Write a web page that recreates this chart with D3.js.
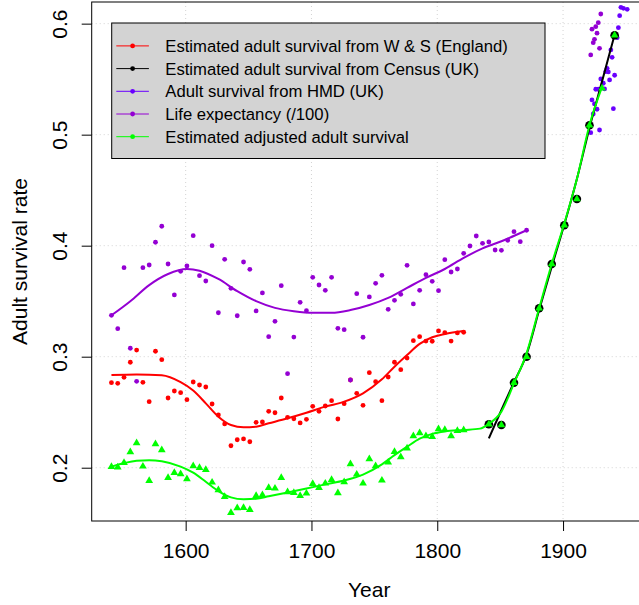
<!DOCTYPE html>
<html>
<head>
<meta charset="utf-8">
<script src="https://cdn.jsdelivr.net/npm/d3@7"></script>
<style>
    body { margin: 0; background: #fff; }
    svg { display: block; font-family: "Liberation Sans", Arial, sans-serif; }
</style>
</head>
<body>
<script>
// Wrigley & Schofield quinquennial estimates
const wsYears = [1541, 1546, 1551, 1556, 1561, 1566, 1571, 1576, 1581, 1586, 1591, 1596, 1601, 1606, 1611,
    1616, 1621, 1626, 1631, 1636, 1641, 1646, 1651, 1656, 1661, 1666, 1671, 1676, 1681, 1686, 1691, 1696,
    1701, 1706, 1711, 1716, 1721, 1726, 1731, 1736, 1741, 1746, 1751, 1756, 1761, 1766, 1771, 1776, 1781,
    1786, 1791, 1796, 1801, 1806, 1811, 1816, 1821];
const wsSurvival = [0.2766, 0.2760, 0.2814, 0.2950, 0.3060, 0.2769, 0.2595, 0.3049, 0.2973, 0.2628, 0.2691,
    0.2676, 0.2613, 0.2772, 0.2745, 0.2727, 0.2574, 0.2475, 0.2394, 0.2198, 0.2252, 0.2259, 0.2234, 0.2409,
    0.2412, 0.2508, 0.2495, 0.2628, 0.2454, 0.2441, 0.2403, 0.2436, 0.2553, 0.2508, 0.2556, 0.2604, 0.2439,
    0.2577, 0.2790, 0.2670, 0.2562, 0.2856, 0.2775, 0.2604, 0.2817, 0.2950, 0.2883, 0.2988, 0.3144, 0.3180,
    0.3141, 0.3139, 0.3232, 0.3216, 0.3141, 0.3214, 0.3220];
const wsFitYears = [1541, 1561, 1581, 1596, 1606, 1616, 1626, 1636, 1646, 1656, 1666, 1681, 1696, 1711,
    1726, 1741, 1756, 1766, 1776, 1786, 1796, 1806, 1821];
const wsFit = [0.2835, 0.2840, 0.2832, 0.2770, 0.2695, 0.2580, 0.2460, 0.2385, 0.2364, 0.2370, 0.2400,
    0.2445, 0.2495, 0.2550, 0.2595, 0.2670, 0.2796, 0.2910, 0.3015, 0.3115, 0.3175, 0.3205, 0.3232];

// census
const censusYears = [1841, 1851, 1861, 1871, 1881, 1891, 1901, 1911, 1921, 1941];
const censusSurvival = [0.2391, 0.2385, 0.2766, 0.3000, 0.3436, 0.3835, 0.4184, 0.4420, 0.5085, 0.5895];
const censusFitYears = [1841, 1851, 1861, 1871, 1881, 1891, 1901, 1911, 1921, 1931, 1941];
const censusFit = [0.2265, 0.2520, 0.2770, 0.3020, 0.3420, 0.3810, 0.4190, 0.4600, 0.5060, 0.5480, 0.5900];

// Human Mortality Database
const hmdYears = [1922, 1923, 1924, 1925, 1926, 1927, 1928, 1929, 1930, 1932, 1933, 1934, 1935, 1936, 1937,
    1938, 1939, 1940, 1941, 1943, 1944, 1945, 1946, 1948, 1951];
const hmdSurvival = [0.5018, 0.5313, 0.5186, 0.5277, 0.5409, 0.5229, 0.5409, 0.5042, 0.5502, 0.5463, 0.5412,
    0.5568, 0.5598, 0.5565, 0.5493, 0.5763, 0.5697, 0.5234, 0.5535, 0.5874, 0.5964, 0.6072, 0.6147, 0.6138,
    0.6129];

// life expectancy / 100
const leYears = [1541, 1546, 1551, 1556, 1561, 1566, 1571, 1576, 1581, 1586, 1591, 1596, 1601, 1606, 1611,
    1616, 1621, 1626, 1631, 1636, 1641, 1646, 1651, 1656, 1661, 1666, 1671, 1676, 1681, 1686, 1691, 1696,
    1701, 1706, 1711, 1716, 1721, 1726, 1731, 1736, 1741, 1746, 1751, 1756, 1761, 1766, 1771, 1776, 1781,
    1786, 1791, 1796, 1801, 1806, 1811, 1816, 1821, 1826, 1831, 1836, 1841, 1846, 1851, 1856, 1861, 1866,
    1871, 1922, 1923, 1924, 1925, 1926, 1927, 1928, 1929, 1930];
const leValues = [0.3373, 0.3252, 0.3802, 0.3076, 0.2778, 0.3802, 0.3826, 0.4031, 0.4175, 0.3835, 0.3556,
    0.3769, 0.3817, 0.4090, 0.3730, 0.3682, 0.4000, 0.3396, 0.3877, 0.3616, 0.3369, 0.3853, 0.3787, 0.3412,
    0.3574, 0.3180, 0.3319, 0.3640, 0.2847, 0.3177, 0.3490, 0.3414, 0.3715, 0.3646, 0.3598, 0.3715, 0.3256,
    0.3243, 0.2790, 0.3568, 0.3175, 0.3538, 0.3661, 0.3733, 0.3427, 0.3508, 0.3562, 0.3823, 0.3475, 0.3598,
    0.3739, 0.3679, 0.3595, 0.3874, 0.3763, 0.3790, 0.3931, 0.3997, 0.4087, 0.4021, 0.4033, 0.3961, 0.3958,
    0.4049, 0.4126, 0.4036, 0.4139, 0.5718, 0.5950, 0.5829, 0.5859, 0.5973, 0.5914, 0.6009, 0.5778, 0.6087];
const leFitYears = [1541, 1556, 1571, 1586, 1601, 1611, 1626, 1641, 1656, 1671, 1686, 1701, 1716, 1731,
    1746, 1761, 1776, 1791, 1806, 1821, 1836, 1851, 1871];
const leFit = [0.3373, 0.3500, 0.3645, 0.3745, 0.3790, 0.3775, 0.3700, 0.3590, 0.3500, 0.3440, 0.3410,
    0.3395, 0.3395, 0.3420, 0.3466, 0.3530, 0.3620, 0.3710, 0.3790, 0.3890, 0.3975, 0.4040, 0.4139];

// adjusted adult survival
const adjYears = [1541, 1546, 1551, 1556, 1561, 1566, 1571, 1576, 1581, 1586, 1591, 1596, 1601, 1606, 1611,
    1616, 1621, 1626, 1631, 1636, 1641, 1646, 1651, 1656, 1661, 1666, 1671, 1676, 1681, 1686, 1691, 1696,
    1701, 1706, 1711, 1716, 1721, 1726, 1731, 1736, 1741, 1746, 1751, 1756, 1761, 1766, 1771, 1776, 1781,
    1786, 1791, 1796, 1801, 1806, 1811, 1816, 1821, 1841, 1851, 1861, 1871, 1881, 1891, 1901, 1911, 1921,
    1931, 1941];
const adjSurvival = [0.2009, 0.2004, 0.2045, 0.2141, 0.2222, 0.2012, 0.1883, 0.2214, 0.2159, 0.1910, 0.1955,
    0.1943, 0.1898, 0.2015, 0.2000, 0.1982, 0.1868, 0.1799, 0.1739, 0.1595, 0.1637, 0.1640, 0.1622, 0.1748,
    0.1754, 0.1820, 0.1814, 0.1910, 0.1781, 0.1775, 0.1748, 0.1769, 0.1856, 0.1820, 0.1859, 0.1892, 0.1772,
    0.1871, 0.2033, 0.1940, 0.1859, 0.2078, 0.2015, 0.1886, 0.2048, 0.2144, 0.2096, 0.2175, 0.2285, 0.2312,
    0.2285, 0.2279, 0.2349, 0.2342, 0.2285, 0.2333, 0.2340, 0.2391, 0.2385, 0.2766, 0.3000, 0.3436, 0.3835,
    0.4184, 0.4420, 0.5085, 0.5418, 0.5895];
const adjFitYears = [1541, 1561, 1571, 1581, 1596, 1606, 1616, 1626, 1636, 1646, 1656, 1666, 1681, 1696,
    1711, 1726, 1741, 1756, 1766, 1776, 1786, 1796, 1806, 1821, 1834, 1841, 1851, 1861, 1871, 1881, 1891,
    1901, 1911, 1921, 1931];
const adjFit = [0.2010, 0.2062, 0.2068, 0.2058, 0.2010, 0.1955, 0.1874, 0.1790, 0.1733, 0.1716, 0.1720,
    0.1742, 0.1776, 0.1812, 0.1850, 0.1885, 0.1938, 0.2030, 0.2113, 0.2189, 0.2262, 0.2305, 0.2327, 0.2340,
    0.2352, 0.2395, 0.2505, 0.2760, 0.3030, 0.3436, 0.3835, 0.4200, 0.4600, 0.5085, 0.5430];

const xTicks = [1600, 1700, 1800, 1900];
const yTicks = [0.2, 0.3, 0.4, 0.5, 0.6];

const legendLabels = [
    'Estimated adult survival from W & S (England)',
    'Estimated adult survival from Census (UK)',
    'Adult survival from HMD (UK)',
    'Life expectancy (/100)',
    'Estimated adjusted adult survival'
];

const red = '#ff0000';
const black = '#000000';
const hmdColor = '#6a00ff';
const leColor = '#9400d3';
const green = '#00ff00';
const legendColors = [red, black, hmdColor, leColor, green];

const width = 639;
const height = 605;
const plot = {left: 91.7, right: 646.7, top: 2, bottom: 521};

const x = d3.scaleLinear()
    .domain([1525.3, 1966.5])
    .range([plot.left, plot.right]);

const y = d3.scaleLinear()
    .domain([0.152, 0.6195])
    .range([plot.bottom, plot.top]);

const svg = d3.select('body').append('svg')
    .attr('width', width)
    .attr('height', height);

svg.append('rect')
    .attr('width', width)
    .attr('height', height)
    .attr('fill', '#fff');

svg.append('defs').append('clipPath')
    .attr('id', 'clip')
    .append('rect')
    .attr('x', plot.left)
    .attr('y', plot.top)
    .attr('width', plot.right - plot.left)
    .attr('height', plot.bottom - plot.top);

// grid
const grid = svg.append('g')
    .attr('stroke', '#d3d3d3')
    .attr('stroke-width', 1)
    .attr('stroke-dasharray', '1,3');

grid.selectAll('line.v')
    .data(xTicks)
    .enter()
    .append('line')
    .attr('x1', d => x(d))
    .attr('x2', d => x(d))
    .attr('y1', plot.top)
    .attr('y2', plot.bottom);

grid.selectAll('line.h')
    .data(yTicks)
    .enter()
    .append('line')
    .attr('x1', plot.left)
    .attr('x2', plot.right)
    .attr('y1', d => y(d))
    .attr('y2', d => y(d));

const g = svg.append('g').attr('clip-path', 'url(#clip)');

const zip = (xs, ys) => xs.map((d, i) => [d, ys[i]]);

const line = d3.line()
    .x(d => x(d[0]))
    .y(d => y(d[1]))
    .curve(d3.curveMonotoneX);

const drawDots = (data, color, r) => {
    g.append('g')
        .selectAll('circle')
        .data(data)
        .enter()
        .append('circle')
        .attr('cx', d => x(d[0]))
        .attr('cy', d => y(d[1]))
        .attr('r', r)
        .attr('fill', color);
};

const drawCurve = (data, color) => {
    g.append('path')
        .attr('d', line(data))
        .attr('fill', 'none')
        .attr('stroke', color)
        .attr('stroke-width', 2);
};

drawDots(zip(wsYears, wsSurvival), red, 2.4);
drawCurve(zip(wsFitYears, wsFit), red);

drawDots(zip(leYears, leValues), leColor, 2.4);
drawCurve(zip(leFitYears, leFit), leColor);

drawDots(zip(hmdYears, hmdSurvival), hmdColor, 2.4);

drawDots(zip(censusYears, censusSurvival), black, 4.3);
drawCurve(zip(censusFitYears, censusFit), black);

g.append('g')
    .selectAll('path')
    .data(zip(adjYears, adjSurvival))
    .enter()
    .append('path')
    .attr('d', d3.symbol(d3.symbolTriangle, 26))
    .attr('transform', d => `translate(${x(d[0])},${y(d[1])})`)
    .attr('fill', green);

drawCurve(zip(adjFitYears, adjFit), green);

// axes
const xAxis = svg.append('g')
    .attr('transform', `translate(0,${plot.bottom})`)
    .call(d3.axisBottom(x).tickValues(xTicks).tickFormat(d3.format('d')).tickSize(10).tickPadding(11.7).tickSizeOuter(0));

const yAxis = svg.append('g')
    .attr('transform', `translate(${plot.left},0)`)
    .call(d3.axisLeft(y).tickValues(yTicks).tickFormat(d3.format('.1f')).tickSize(10).tickSizeOuter(0));

[xAxis, yAxis].forEach(a => {
    a.select('.domain').remove();
    a.selectAll('text')
        .attr('fill', '#000')
        .style('font-size', '21px')
        .style('font-family', '"Liberation Sans", Arial, sans-serif');
    a.selectAll('line').attr('stroke', '#000');
});

yAxis.selectAll('text')
    .attr('transform', 'rotate(-90)')
    .attr('x', 0)
    .attr('y', -(plot.left - 66.7))
    .attr('dy', 0)
    .attr('text-anchor', 'middle');

svg.append('rect')
    .attr('x', plot.left)
    .attr('y', plot.top)
    .attr('width', plot.right - plot.left)
    .attr('height', plot.bottom - plot.top)
    .attr('fill', 'none')
    .attr('stroke', '#000')
    .attr('stroke-width', 1);

svg.append('text')
    .attr('x', (plot.left + plot.right) / 2)
    .attr('y', 597)
    .attr('text-anchor', 'middle')
    .style('font-size', '21px')
    .text('Year');

svg.append('text')
    .attr('transform', `translate(26.7,${(plot.top + plot.bottom) / 2}) rotate(-90)`)
    .attr('text-anchor', 'middle')
    .style('font-size', '21px')
    .text('Adult survival rate');

// legend
const legend = svg.append('g');

legend.append('rect')
    .attr('x', 111.7)
    .attr('y', 23)
    .attr('width', 433.3)
    .attr('height', 135.5)
    .attr('fill', '#d3d3d3')
    .attr('stroke', '#000');

const rows = legend.selectAll('g.row')
    .data(legendLabels)
    .enter()
    .append('g')
    .attr('transform', (d, i) => `translate(0,${45.9 + i * 22.7})`);

rows.append('line')
    .attr('x1', 116.3)
    .attr('x2', 148.9)
    .attr('stroke', (d, i) => legendColors[i])
    .attr('stroke-width', 1);

rows.append('circle')
    .attr('cx', 132.6)
    .attr('r', 2.4)
    .attr('fill', (d, i) => legendColors[i]);

rows.append('text')
    .attr('x', 165.3)
    .attr('dy', '0.36em')
    .style('font-size', '16.67px')
    .text(d => d);
</script>
</body>
</html>
